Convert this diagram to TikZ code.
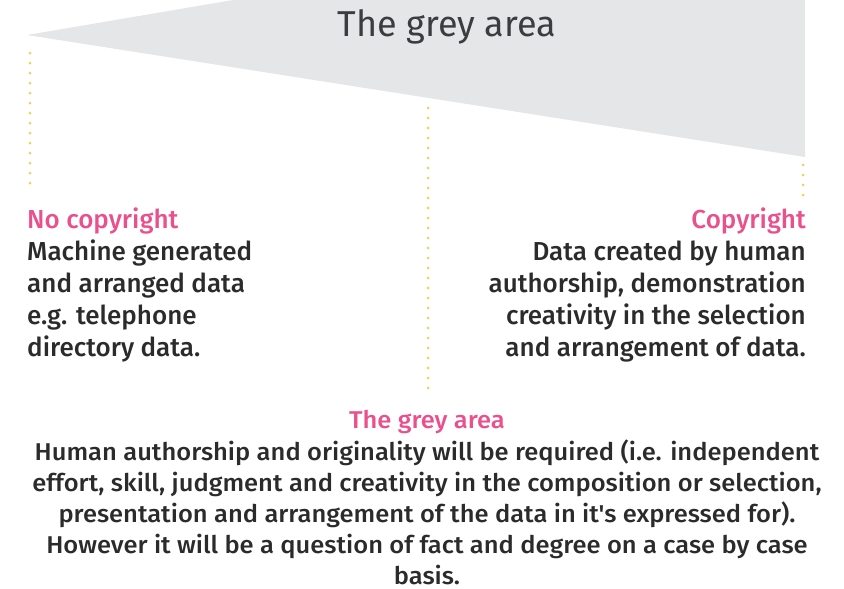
\documentclass[tikz,border=0pt]{standalone}
\usepackage{fontspec}
\setmainfont{Fira Sans}[UprightFont={* Medium}]
\newfontfamily\titlefont{Fira Sans}
\newfontfamily\widefont{Fira Sans}[UprightFont={* Medium}, FakeStretch=1.05]
\usetikzlibrary{positioning}

\definecolor{wedgegrey}{HTML}{E4E6E8}
\definecolor{headpink}{HTML}{E9508C}
\definecolor{dotyellow}{HTML}{F2CF55}
\definecolor{titlegrey}{HTML}{3A3D40}
\definecolor{bodyblack}{HTML}{2B2B2B}

\begin{document}
\begin{tikzpicture}[x=1pt, y=-1pt, dotline/.style={dotyellow, line width=3pt, line cap=round, dash pattern=on 0pt off 10pt}, textblock/.style={inner sep=0pt, font=\fontsize{26}{32}\selectfont, text=bodyblack}]

  \useasboundingbox (0,0) rectangle (844,589);

  % the wedge
  \fill[wedgegrey] (27,35) -- (233,0) -- (805,0) -- (805,157) -- cycle;
  \node[anchor=base, inner sep=0pt, font=\titlefont\fontsize{36}{40}\selectfont, text=titlegrey] (title) at (447,36) {The grey area};

  % the three blocks
  \node[textblock, anchor=base west, align=left] (nocopy) at (27,356) {\textcolor{headpink}{No copyright}\\Machine generated\\and arranged data\\e.g. telephone\\directory data.};
  \node[textblock, anchor=base east, align=right] (copy) at (806,356) {\textcolor{headpink}{Copyright}\\Data created by human\\authorship, demonstration\\creativity in the selection\\and arrangement of data.};
  \node[textblock, anchor=base, align=center, font=\widefont\fontsize{24.3}{30.8}\selectfont] (greyarea) at (427,584) {\textcolor{headpink}{The grey area}\\[2pt]Human authorship and originality will be required (i.e. independent\\effort, skill, judgment and creativity in the composition or selection,\\presentation and arrangement of the data in it's expressed for).\\However it will be a question of fact and degree on a case by case\\basis.};

  \coordinate (lefttop) at (30,53);
  \coordinate (leftend) at (30,193);
  \coordinate (midtop) at (428,108);
  \coordinate (midend) at (428,398);
  \coordinate (righttop) at (803,165);
  \coordinate (rightend) at (803,200);

  \draw[dotline] (lefttop) -- (leftend);
  \draw[dotline] (midtop) -- (midend);
  \draw[dotline] (righttop) -- (rightend);
\end{tikzpicture}
\end{document}
